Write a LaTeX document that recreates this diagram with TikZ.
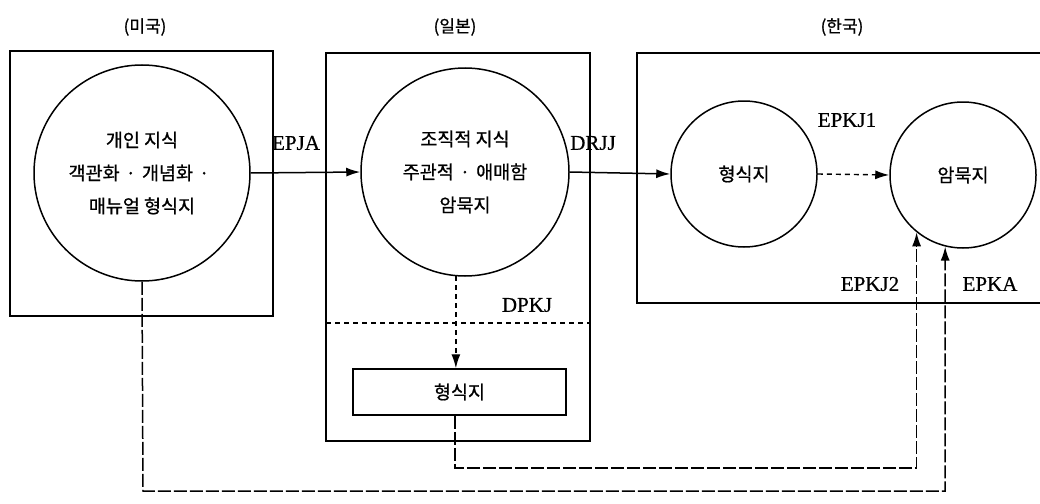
\documentclass[tikz,border=0pt]{standalone}
\usepackage{fontspec}
\setmainfont{Liberation Serif}[FakeBold=0.5]
\newfontfamily\cjk{Noto Sans CJK KR}[FakeBold=0.9]
\usetikzlibrary{arrows.meta,calc}
\newcommand{\middot}{\kern6pt·\kern6pt}
\tikzset{
  frame/.style={draw, line width=1.5pt, inner sep=0pt},
  knode/.style={circle, draw, line width=1.5pt, inner sep=0pt, align=center,
                font=\cjk\fontsize{18.5}{33}\selectfont},
  lbl/.style={font=\fontsize{21}{24}\selectfont, inner sep=0pt},
  country/.style={font=\cjk\fontsize{17}{20}\selectfont, inner sep=0pt},
  tip/.style={-{Latex[length=14pt,width=9pt]}},
  flow/.style={tip, line width=1.5pt},
  dflow/.style={tip, line width=1.4pt, dash pattern=on 5pt off 4pt},
  longdash/.style={line width=1.5pt, dash pattern=on 13pt off 3pt},
}
\begin{document}
\begin{tikzpicture}[x=1pt,y=-1pt]
\useasboundingbox (0,0) rectangle (1040,503);
% country labels
\node[country] (lus) at (145,27) {(미국)};
\node[country] (ljp) at (455,27) {(일본)};
\node[country] (lkr) at (842,27) {(한국)};
% boxes
\draw[frame] (10,51) rectangle (273,316);
\draw[frame] (326,53) rectangle (590,441);
\draw[frame] (1040,53) -- (637,53) -- (637,303) -- (1040,303);
\draw[line width=1.3pt, dash pattern=on 5pt off 4pt] (326,323) -- (590,323);
% circles
\node[knode, minimum size=216pt] (usc) at (142,173) {개인 지식\\객관화\middot 개념화\middot\\매뉴얼 형식지};
\node[knode, minimum size=208pt] (jc) at (465,172) {조직적 지식\\주관적\middot 애매함\\암묵지};
\node[knode, minimum size=146pt] (k1) at (744,174) {형식지};
\node[knode, minimum size=146pt] (k2) at (963,175) {암묵지};
\node[frame, minimum width=213pt, minimum height=46pt, font=\cjk\fontsize{18.5}{20}\selectfont] (jf) at (459.5,392) {형식지};
% labels
\node[lbl] (tepja) at (296,143) {EPJA};
\node[lbl] (tdrjj) at (593,143) {DRJJ};
\node[lbl] (tepkj1) at (847,120) {EPKJ1};
\node[lbl] (tdpkj) at (527,305) {DPKJ};
\node[lbl] (tepkj2) at (870,284) {EPKJ2};
\node[lbl] (tepka) at (990,284) {EPKA};
% connectors
\draw[flow] (usc.east) -- (jc.west);
\draw[flow] (jc.east) -- (k1.west);
\draw[dflow] (k1.east) -- (k2.west);
\draw[dflow] (jc.-95.6) -- (jc.-95.6 |- jf.north);
\coordinate (b1) at (455,468);
\coordinate (b2) at (143,491);
\draw[longdash, tip] (jf.south -| b1) -- (b1) -- (b1 -| k2.-129.05) -- (k2.-129.05);
\draw[longdash, tip] (usc.south) -- (b2) -- (b2 -| k2.-104.3) -- (k2.-104.3);
\end{tikzpicture}
\end{document}
